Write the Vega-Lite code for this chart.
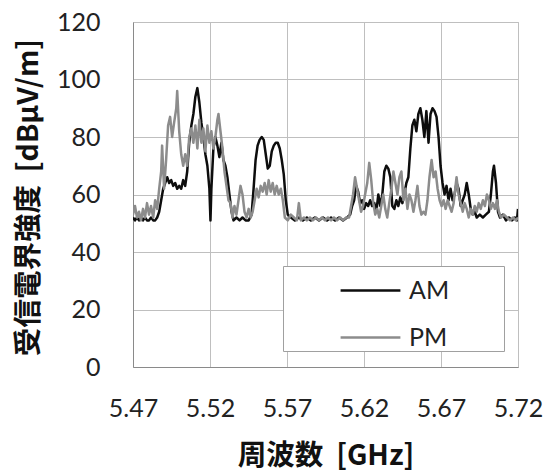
{
  "$schema": "https://vega.github.io/schema/vega-lite/v6.json",
  "width": 385,
  "height": 345,
  "autosize": {"type": "none"},
  "padding": {"left": 133, "top": 22, "right": 40, "bottom": 107},
  "background": "white",
  "config": {
    "view": {"stroke": "#bfbfbf", "strokeWidth": 1},
    "axis": {
      "labelFont": "Lato", "labelFontSize": 25, "labelColor": "#222222",
      "gridColor": "#bfbfbf", "gridWidth": 1, "gridOpacity": 1,
      "domainColor": "#8a8a8a", "domainWidth": 1,
      "ticks": false, "tickSize": 0,
      "titleFont": "Noto Sans CJK JP", "titleFontSize": 28.5, "titleFontWeight": "bold", "titleColor": "#111111"
    }
  },
  "data": {"values": [
    {"s":"AM","f":5.4700,"v":52},{"s":"AM","f":5.4713,"v":51},{"s":"AM","f":5.4726,"v":52},{"s":"AM","f":5.4739,"v":51},{"s":"AM","f":5.4752,"v":52},{"s":"AM","f":5.4765,"v":51},{"s":"AM","f":5.4778,"v":52},{"s":"AM","f":5.4791,"v":51},{"s":"AM","f":5.4804,"v":51},{"s":"AM","f":5.4817,"v":52},{"s":"AM","f":5.4831,"v":51},{"s":"AM","f":5.4844,"v":51},{"s":"AM","f":5.4857,"v":52},{"s":"AM","f":5.4870,"v":54},{"s":"AM","f":5.4883,"v":58},{"s":"AM","f":5.4896,"v":62},{"s":"AM","f":5.4909,"v":64},{"s":"AM","f":5.4922,"v":66},{"s":"AM","f":5.4935,"v":64},{"s":"AM","f":5.4948,"v":65},{"s":"AM","f":5.4961,"v":63},{"s":"AM","f":5.4974,"v":64},{"s":"AM","f":5.4987,"v":62},{"s":"AM","f":5.5000,"v":63},{"s":"AM","f":5.5013,"v":62},{"s":"AM","f":5.5026,"v":65},{"s":"AM","f":5.5039,"v":63},{"s":"AM","f":5.5052,"v":68},{"s":"AM","f":5.5065,"v":78},{"s":"AM","f":5.5079,"v":84},{"s":"AM","f":5.5092,"v":88},{"s":"AM","f":5.5105,"v":94},{"s":"AM","f":5.5118,"v":97},{"s":"AM","f":5.5131,"v":92},{"s":"AM","f":5.5144,"v":85},{"s":"AM","f":5.5157,"v":80},{"s":"AM","f":5.5170,"v":74},{"s":"AM","f":5.5183,"v":70},{"s":"AM","f":5.5196,"v":62},{"s":"AM","f":5.5203,"v":51},{"s":"AM","f":5.5209,"v":62},{"s":"AM","f":5.5222,"v":76},{"s":"AM","f":5.5235,"v":80},{"s":"AM","f":5.5248,"v":77},{"s":"AM","f":5.5261,"v":73},{"s":"AM","f":5.5274,"v":78},{"s":"AM","f":5.5287,"v":72},{"s":"AM","f":5.5300,"v":70},{"s":"AM","f":5.5313,"v":66},{"s":"AM","f":5.5326,"v":60},{"s":"AM","f":5.5340,"v":54},{"s":"AM","f":5.5353,"v":51},{"s":"AM","f":5.5372,"v":52},{"s":"AM","f":5.5392,"v":51},{"s":"AM","f":5.5411,"v":52},{"s":"AM","f":5.5431,"v":51},{"s":"AM","f":5.5451,"v":51},{"s":"AM","f":5.5470,"v":53},{"s":"AM","f":5.5483,"v":62},{"s":"AM","f":5.5496,"v":72},{"s":"AM","f":5.5509,"v":77},{"s":"AM","f":5.5522,"v":79},{"s":"AM","f":5.5536,"v":80},{"s":"AM","f":5.5549,"v":79},{"s":"AM","f":5.5562,"v":74},{"s":"AM","f":5.5575,"v":69},{"s":"AM","f":5.5588,"v":70},{"s":"AM","f":5.5601,"v":75},{"s":"AM","f":5.5614,"v":77},{"s":"AM","f":5.5627,"v":78},{"s":"AM","f":5.5640,"v":78},{"s":"AM","f":5.5653,"v":76},{"s":"AM","f":5.5666,"v":72},{"s":"AM","f":5.5679,"v":67},{"s":"AM","f":5.5692,"v":58},{"s":"AM","f":5.5705,"v":53},{"s":"AM","f":5.5725,"v":52},{"s":"AM","f":5.5751,"v":51},{"s":"AM","f":5.5777,"v":52},{"s":"AM","f":5.5803,"v":51},{"s":"AM","f":5.5829,"v":52},{"s":"AM","f":5.5855,"v":51},{"s":"AM","f":5.5881,"v":52},{"s":"AM","f":5.5908,"v":51},{"s":"AM","f":5.5934,"v":52},{"s":"AM","f":5.5960,"v":51},{"s":"AM","f":5.5986,"v":52},{"s":"AM","f":5.6012,"v":51},{"s":"AM","f":5.6038,"v":52},{"s":"AM","f":5.6064,"v":51},{"s":"AM","f":5.6090,"v":52},{"s":"AM","f":5.6110,"v":53},{"s":"AM","f":5.6123,"v":56},{"s":"AM","f":5.6136,"v":58},{"s":"AM","f":5.6149,"v":63},{"s":"AM","f":5.6162,"v":61},{"s":"AM","f":5.6175,"v":57},{"s":"AM","f":5.6188,"v":58},{"s":"AM","f":5.6201,"v":55},{"s":"AM","f":5.6214,"v":57},{"s":"AM","f":5.6227,"v":56},{"s":"AM","f":5.6240,"v":58},{"s":"AM","f":5.6253,"v":56},{"s":"AM","f":5.6267,"v":57},{"s":"AM","f":5.6280,"v":54},{"s":"AM","f":5.6293,"v":60},{"s":"AM","f":5.6306,"v":56},{"s":"AM","f":5.6319,"v":60},{"s":"AM","f":5.6332,"v":68},{"s":"AM","f":5.6345,"v":70},{"s":"AM","f":5.6358,"v":69},{"s":"AM","f":5.6371,"v":66},{"s":"AM","f":5.6384,"v":56},{"s":"AM","f":5.6397,"v":55},{"s":"AM","f":5.6410,"v":58},{"s":"AM","f":5.6423,"v":56},{"s":"AM","f":5.6436,"v":59},{"s":"AM","f":5.6449,"v":57},{"s":"AM","f":5.6462,"v":60},{"s":"AM","f":5.6475,"v":64},{"s":"AM","f":5.6488,"v":66},{"s":"AM","f":5.6501,"v":76},{"s":"AM","f":5.6514,"v":84},{"s":"AM","f":5.6527,"v":86},{"s":"AM","f":5.6540,"v":82},{"s":"AM","f":5.6553,"v":88},{"s":"AM","f":5.6566,"v":90},{"s":"AM","f":5.6579,"v":86},{"s":"AM","f":5.6592,"v":80},{"s":"AM","f":5.6605,"v":89},{"s":"AM","f":5.6619,"v":78},{"s":"AM","f":5.6632,"v":88},{"s":"AM","f":5.6645,"v":90},{"s":"AM","f":5.6658,"v":89},{"s":"AM","f":5.6671,"v":87},{"s":"AM","f":5.6684,"v":80},{"s":"AM","f":5.6697,"v":70},{"s":"AM","f":5.6710,"v":64},{"s":"AM","f":5.6723,"v":60},{"s":"AM","f":5.6736,"v":63},{"s":"AM","f":5.6749,"v":58},{"s":"AM","f":5.6762,"v":62},{"s":"AM","f":5.6775,"v":58},{"s":"AM","f":5.6788,"v":60},{"s":"AM","f":5.6801,"v":64},{"s":"AM","f":5.6814,"v":62},{"s":"AM","f":5.6828,"v":56},{"s":"AM","f":5.6841,"v":58},{"s":"AM","f":5.6854,"v":60},{"s":"AM","f":5.6867,"v":64},{"s":"AM","f":5.6880,"v":60},{"s":"AM","f":5.6893,"v":55},{"s":"AM","f":5.6906,"v":53},{"s":"AM","f":5.6919,"v":54},{"s":"AM","f":5.6932,"v":52},{"s":"AM","f":5.6952,"v":53},{"s":"AM","f":5.6972,"v":52},{"s":"AM","f":5.6991,"v":53},{"s":"AM","f":5.7011,"v":54},{"s":"AM","f":5.7024,"v":60},{"s":"AM","f":5.7037,"v":68},{"s":"AM","f":5.7044,"v":70},{"s":"AM","f":5.7057,"v":64},{"s":"AM","f":5.7070,"v":54},{"s":"AM","f":5.7083,"v":52},{"s":"AM","f":5.7102,"v":53},{"s":"AM","f":5.7122,"v":51},{"s":"AM","f":5.7141,"v":52},{"s":"AM","f":5.7161,"v":51},{"s":"AM","f":5.7180,"v":52},{"s":"AM","f":5.7193,"v":51},{"s":"AM","f":5.7200,"v":55},
    {"s":"PM","f":5.4700,"v":53},{"s":"PM","f":5.4713,"v":56},{"s":"PM","f":5.4726,"v":52},{"s":"PM","f":5.4739,"v":54},{"s":"PM","f":5.4752,"v":51},{"s":"PM","f":5.4765,"v":55},{"s":"PM","f":5.4778,"v":52},{"s":"PM","f":5.4791,"v":57},{"s":"PM","f":5.4804,"v":53},{"s":"PM","f":5.4817,"v":56},{"s":"PM","f":5.4831,"v":52},{"s":"PM","f":5.4844,"v":58},{"s":"PM","f":5.4857,"v":55},{"s":"PM","f":5.4870,"v":62},{"s":"PM","f":5.4883,"v":68},{"s":"PM","f":5.4889,"v":77},{"s":"PM","f":5.4902,"v":62},{"s":"PM","f":5.4915,"v":72},{"s":"PM","f":5.4928,"v":84},{"s":"PM","f":5.4941,"v":87},{"s":"PM","f":5.4954,"v":80},{"s":"PM","f":5.4967,"v":85},{"s":"PM","f":5.4981,"v":90},{"s":"PM","f":5.4987,"v":96},{"s":"PM","f":5.5000,"v":82},{"s":"PM","f":5.5013,"v":74},{"s":"PM","f":5.5026,"v":70},{"s":"PM","f":5.5039,"v":74},{"s":"PM","f":5.5052,"v":70},{"s":"PM","f":5.5065,"v":80},{"s":"PM","f":5.5079,"v":83},{"s":"PM","f":5.5092,"v":78},{"s":"PM","f":5.5105,"v":84},{"s":"PM","f":5.5118,"v":76},{"s":"PM","f":5.5131,"v":86},{"s":"PM","f":5.5144,"v":78},{"s":"PM","f":5.5157,"v":83},{"s":"PM","f":5.5170,"v":75},{"s":"PM","f":5.5183,"v":84},{"s":"PM","f":5.5196,"v":78},{"s":"PM","f":5.5209,"v":82},{"s":"PM","f":5.5222,"v":76},{"s":"PM","f":5.5235,"v":80},{"s":"PM","f":5.5248,"v":86},{"s":"PM","f":5.5255,"v":88},{"s":"PM","f":5.5268,"v":82},{"s":"PM","f":5.5281,"v":76},{"s":"PM","f":5.5294,"v":68},{"s":"PM","f":5.5307,"v":63},{"s":"PM","f":5.5320,"v":58},{"s":"PM","f":5.5333,"v":57},{"s":"PM","f":5.5346,"v":52},{"s":"PM","f":5.5359,"v":56},{"s":"PM","f":5.5372,"v":53},{"s":"PM","f":5.5385,"v":58},{"s":"PM","f":5.5398,"v":63},{"s":"PM","f":5.5411,"v":60},{"s":"PM","f":5.5424,"v":54},{"s":"PM","f":5.5438,"v":52},{"s":"PM","f":5.5451,"v":55},{"s":"PM","f":5.5464,"v":52},{"s":"PM","f":5.5477,"v":54},{"s":"PM","f":5.5490,"v":58},{"s":"PM","f":5.5503,"v":62},{"s":"PM","f":5.5516,"v":59},{"s":"PM","f":5.5529,"v":63},{"s":"PM","f":5.5542,"v":61},{"s":"PM","f":5.5555,"v":64},{"s":"PM","f":5.5568,"v":60},{"s":"PM","f":5.5581,"v":65},{"s":"PM","f":5.5594,"v":61},{"s":"PM","f":5.5607,"v":64},{"s":"PM","f":5.5620,"v":60},{"s":"PM","f":5.5633,"v":63},{"s":"PM","f":5.5646,"v":60},{"s":"PM","f":5.5660,"v":62},{"s":"PM","f":5.5673,"v":58},{"s":"PM","f":5.5686,"v":52},{"s":"PM","f":5.5705,"v":51},{"s":"PM","f":5.5725,"v":53},{"s":"PM","f":5.5745,"v":52},{"s":"PM","f":5.5764,"v":51},{"s":"PM","f":5.5777,"v":57},{"s":"PM","f":5.5790,"v":51},{"s":"PM","f":5.5810,"v":52},{"s":"PM","f":5.5829,"v":51},{"s":"PM","f":5.5849,"v":52},{"s":"PM","f":5.5868,"v":51},{"s":"PM","f":5.5888,"v":52},{"s":"PM","f":5.5908,"v":51},{"s":"PM","f":5.5927,"v":52},{"s":"PM","f":5.5947,"v":51},{"s":"PM","f":5.5966,"v":52},{"s":"PM","f":5.5986,"v":51},{"s":"PM","f":5.6005,"v":52},{"s":"PM","f":5.6025,"v":51},{"s":"PM","f":5.6045,"v":52},{"s":"PM","f":5.6064,"v":51},{"s":"PM","f":5.6084,"v":52},{"s":"PM","f":5.6103,"v":52},{"s":"PM","f":5.6116,"v":56},{"s":"PM","f":5.6129,"v":60},{"s":"PM","f":5.6142,"v":66},{"s":"PM","f":5.6155,"v":62},{"s":"PM","f":5.6168,"v":58},{"s":"PM","f":5.6181,"v":54},{"s":"PM","f":5.6194,"v":56},{"s":"PM","f":5.6207,"v":60},{"s":"PM","f":5.6221,"v":64},{"s":"PM","f":5.6234,"v":71},{"s":"PM","f":5.6247,"v":65},{"s":"PM","f":5.6260,"v":57},{"s":"PM","f":5.6273,"v":53},{"s":"PM","f":5.6286,"v":55},{"s":"PM","f":5.6299,"v":52},{"s":"PM","f":5.6312,"v":56},{"s":"PM","f":5.6325,"v":60},{"s":"PM","f":5.6338,"v":55},{"s":"PM","f":5.6351,"v":52},{"s":"PM","f":5.6364,"v":57},{"s":"PM","f":5.6378,"v":62},{"s":"PM","f":5.6391,"v":68},{"s":"PM","f":5.6404,"v":64},{"s":"PM","f":5.6417,"v":60},{"s":"PM","f":5.6430,"v":66},{"s":"PM","f":5.6443,"v":68},{"s":"PM","f":5.6456,"v":58},{"s":"PM","f":5.6469,"v":62},{"s":"PM","f":5.6482,"v":55},{"s":"PM","f":5.6495,"v":60},{"s":"PM","f":5.6508,"v":58},{"s":"PM","f":5.6521,"v":54},{"s":"PM","f":5.6534,"v":58},{"s":"PM","f":5.6547,"v":63},{"s":"PM","f":5.6560,"v":56},{"s":"PM","f":5.6573,"v":53},{"s":"PM","f":5.6586,"v":54},{"s":"PM","f":5.6599,"v":53},{"s":"PM","f":5.6612,"v":58},{"s":"PM","f":5.6625,"v":66},{"s":"PM","f":5.6639,"v":72},{"s":"PM","f":5.6652,"v":66},{"s":"PM","f":5.6665,"v":68},{"s":"PM","f":5.6678,"v":62},{"s":"PM","f":5.6691,"v":58},{"s":"PM","f":5.6704,"v":56},{"s":"PM","f":5.6717,"v":58},{"s":"PM","f":5.6730,"v":55},{"s":"PM","f":5.6743,"v":58},{"s":"PM","f":5.6756,"v":56},{"s":"PM","f":5.6769,"v":54},{"s":"PM","f":5.6782,"v":57},{"s":"PM","f":5.6801,"v":66},{"s":"PM","f":5.6814,"v":60},{"s":"PM","f":5.6828,"v":57},{"s":"PM","f":5.6841,"v":54},{"s":"PM","f":5.6854,"v":57},{"s":"PM","f":5.6867,"v":55},{"s":"PM","f":5.6880,"v":52},{"s":"PM","f":5.6893,"v":55},{"s":"PM","f":5.6906,"v":53},{"s":"PM","f":5.6919,"v":56},{"s":"PM","f":5.6932,"v":54},{"s":"PM","f":5.6945,"v":57},{"s":"PM","f":5.6958,"v":55},{"s":"PM","f":5.6972,"v":58},{"s":"PM","f":5.6985,"v":56},{"s":"PM","f":5.6998,"v":60},{"s":"PM","f":5.7011,"v":58},{"s":"PM","f":5.7024,"v":55},{"s":"PM","f":5.7037,"v":57},{"s":"PM","f":5.7050,"v":55},{"s":"PM","f":5.7063,"v":58},{"s":"PM","f":5.7076,"v":54},{"s":"PM","f":5.7089,"v":52},{"s":"PM","f":5.7109,"v":53},{"s":"PM","f":5.7128,"v":52},{"s":"PM","f":5.7148,"v":51},{"s":"PM","f":5.7168,"v":52},{"s":"PM","f":5.7187,"v":51},{"s":"PM","f":5.7200,"v":52}
  ]},
  "mark": {"type": "line", "strokeWidth": 2.5, "strokeJoin": "round", "clip": true},
  "encoding": {
    "x": {
      "field": "f", "type": "quantitative",
      "scale": {"domain": [5.47, 5.72], "nice": false, "zero": false},
      "axis": {
        "values": [5.47, 5.52, 5.57, 5.62, 5.67, 5.72],
        "format": ".2f", "labelPadding": 29, "labelFlush": false,
        "title": "周波数\u00a0\u00a0[GHz]", "titleY": 88, "titleBaseline": "middle"
      }
    },
    "y": {
      "field": "v", "type": "quantitative",
      "scale": {"domain": [0, 120], "nice": false},
      "axis": {
        "values": [0, 20, 40, 60, 80, 100, 120],
        "labelPadding": 33, "labelFlush": false,
        "title": "受信電界強度\u00a0\u00a0[dBμV/m]",
        "titleX": -105, "titleY": 175, "titleAngle": -90,
        "titleAlign": "center", "titleBaseline": "middle"
      }
    },
    "color": {
      "field": "s", "type": "nominal",
      "scale": {"domain": ["AM", "PM"], "range": ["#0d0d0d", "#8c8c8c"]},
      "legend": {
        "title": "\u00a0", "titleOrient": "right", "titleFontSize": 1, "titlePadding": 55,
        "orient": "none", "legendX": 150, "legendY": 244,
        "padding": 0, "rowPadding": 9,
        "fillColor": "white", "strokeColor": "#a0a0a0",
        "symbolType": "M-1.3,0H1.3", "symbolSize": 2116, "symbolStrokeWidth": 2.5,
        "symbolOffset": 63, "labelOffset": 14,
        "labelFont": "Lato", "labelFontSize": 25, "labelColor": "#222222"
      }
    }
  }
}
